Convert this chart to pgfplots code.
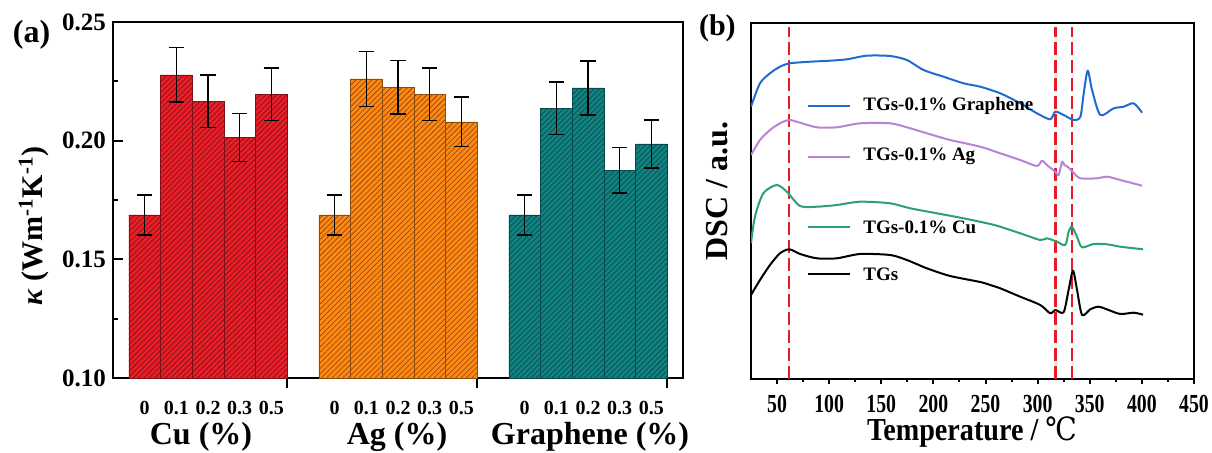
\documentclass[border=0pt]{standalone}
\usepackage{pgfplots}
\pgfplotsset{compat=1.18}
\usepackage{graphicx}
\usepackage{fontspec}
\setmainfont{Liberation Serif}
\newfontfamily\symfont{DejaVu Serif}
\usetikzlibrary{patterns.meta}

\definecolor{cured}{RGB}{232,30,40}
\definecolor{agorange}{RGB}{255,136,20}
\definecolor{grteal}{RGB}{16,130,130}
\definecolor{dscblue}{RGB}{30,108,205}
\definecolor{dscpurple}{RGB}{185,130,215}
\definecolor{dscgreen}{RGB}{45,160,115}
\definecolor{dashred}{RGB}{225,30,40}

\pgfplotsset{
  hatchbar/.style={ybar, bar width=15.83pt, fill=#1, draw=#1!55!black, line width=0.3pt,
    postaction={pattern={Lines[angle=45,distance=1.9pt,line width=0.28pt]}, pattern color=#1!50!black},
    error bars/.cd, y dir=both, y explicit,
    error bar style={black, line width=0.8pt},
    error mark options={rotate=90, black, line width=0.8pt, mark size=3.8pt}},
  dsc/.style={#1, line width=1pt, line join=round, smooth, tension=0.45},
  vline/.style={dashred, line width=1.3pt, dash pattern=on 6.5pt off 2.5pt},
}

\begin{document}
\begin{tikzpicture}
\useasboundingbox (0,0) rectangle (606pt,226pt);

% (a) thermal conductivity
\begin{axis}[
  at={(56.5pt,37pt)}, anchor=south west, scale only axis,
  width=285pt, height=178pt,
  xmin=0, xmax=18, ymin=0.10, ymax=0.25,
  axis line style={line width=1.1pt},
  tick style={black, line width=1pt},
  major tick length=5pt, minor tick length=2.5pt,
  ytick={0.10,0.15,0.20,0.25}, minor ytick={0.125,0.175,0.225},
  ytick pos=left, ytick align=inside,
  yticklabel style={font=\fontsize{12.5}{14}\selectfont\bfseries,
    /pgf/number format/.cd, fixed, fixed zerofill, precision=2, assume math mode=true},
  xtick={5.5,11.5,17.5}, xticklabels={}, xtick pos=bottom, xtick align=outside,
  extra x ticks={1,2,3,4,5,7,8,9,10,11,13,14,15,16,17},
  extra x tick labels={0,0.1,0.2,0.3,0.5,0,0.1,0.2,0.3,0.5,0,0.1,0.2,0.3,0.5},
  extra x tick style={tick style={draw=none},
    xticklabel style={font=\fontsize{10}{12}\selectfont\bfseries, anchor=base, yshift=-13pt}},
]
\addplot[hatchbar=cured] coordinates {
  (1,0.1687) +- (0,0.0084)
  (2,0.2277) +- (0,0.0115)
  (3,0.2166) +- (0,0.0110)
  (4,0.2013) +- (0,0.0101)
  (5,0.2195) +- (0,0.0110)
};
\addplot[hatchbar=agorange] coordinates {
  (7,0.1687) +- (0,0.0084)
  (8,0.2260) +- (0,0.0116)
  (9,0.2225) +- (0,0.0112)
  (10,0.2195) +- (0,0.0110)
  (11,0.2079) +- (0,0.0104)
};
\addplot[hatchbar=grteal] coordinates {
  (13,0.1687) +- (0,0.0084)
  (14,0.2136) +- (0,0.0110)
  (15,0.2222) +- (0,0.0113)
  (16,0.1875) +- (0,0.0096)
  (17,0.1986) +- (0,0.0100)
};
\end{axis}

\node[anchor=base] at (100.5pt,4pt) {\fontsize{16}{18}\selectfont\bfseries Cu (\%)};
\node[anchor=base] at (198.5pt,4pt) {\fontsize{16}{18}\selectfont\bfseries Ag (\%)};
\node[anchor=base] at (295pt,4pt) {\fontsize{16}{18}\selectfont\bfseries Graphene (\%)};
\node[rotate=90, anchor=center] at (17pt,113pt)
  {\fontsize{15}{17}\selectfont\bfseries\textit{κ} (Wm\textsuperscript{-1}K\textsuperscript{-1})};
\node[anchor=base] at (15.8pt,205pt) {\fontsize{16}{18}\selectfont\bfseries (a)};

% (b) DSC curves
\begin{axis}[
  at={(375.5pt,36.5pt)}, anchor=south west, scale only axis,
  width=221.5pt, height=178pt,
  xmin=25, xmax=450, ymin=0, ymax=356,
  axis line style={line width=1.1pt},
  tick style={black, line width=1pt},
  ytick=\empty,
  xtick={50,100,...,450}, minor x tick num=1,
  xtick pos=bottom, tick align=outside,
  major tick length=2.5pt, minor tick length=1.5pt,
  xticklabel={\scalebox{0.76}[1]{\pgfmathprintnumber{\tick}}},
  xticklabel style={font=\fontsize{13}{15}\selectfont\bfseries, anchor=base, yshift=-14pt,
    /pgf/number format/assume math mode=true},
]
\addplot[vline] coordinates {(61.5,0) (61.5,352)};
\addplot[vline] coordinates {(317.4,0) (317.4,352)};
\addplot[vline] coordinates {(332.8,0) (332.8,352)};

\addplot[dsc=dscblue] coordinates {
  (25,272.3) (33.6,295.7) (43.2,305.7) (52.8,312.3) (62.4,315.7) (81.6,317.3)
  (100.9,318.3) (116.9,319.7) (136.1,323.3) (158.5,323) (174.5,319) (190.5,309)
  (209.7,302.3) (228.9,295.7) (244.9,292.3) (264.1,285.7) (283.3,275.7) (299.3,265.7)
  (312.1,259.7) (316.9,267.3) (324.9,264) (334.6,259) (341.0,262.3) (344.2,285.7)
  (348.0,308.3) (352.2,289) (360.1,264) (372.9,270.7) (382.5,272.3) (392.1,275.7)
  (400.2,266.3)
};
\addplot[dsc=dscpurple] coordinates {
  (25,224) (33.6,239) (43.2,249) (52.8,255.7) (61.8,259) (72.1,256.3) (88.1,251.7)
  (107.3,251.7) (129.7,255.7) (158.5,255.7) (174.5,251.7) (193.7,245.7) (216.1,239)
  (244.9,232.3) (264.1,225.7) (283.3,219) (299.3,213) (304.1,218.3) (308.9,214)
  (316.9,207.3) (320.1,204) (323.4,217.3) (325.6,214) (328.7,212.3) (334.5,206.3)
  (340.9,200.7) (357.0,200.7) (366.6,202.3) (379.3,199) (400.2,193.3)
};
\addplot[dsc=dscgreen] coordinates {
  (25,135.7) (28.8,162.3) (36.8,185.7) (49.7,194) (59.3,187.3) (72.1,173) (88.1,172.3)
  (107.3,174) (129.7,177.3) (158.5,175.7) (177.7,170.7) (203.3,165.7) (228.9,160.7)
  (254.5,155) (264.1,152.3) (283.3,145.7) (302.5,139) (308.9,140.7) (318.5,137.3)
  (326.5,134) (329.7,147.3) (332.9,152.3) (337.7,142.3) (342.5,131.7) (353.7,135)
  (366.5,134.7) (379.3,132.3) (401.1,129.7)
};
\addplot[dsc=black] coordinates {
  (25,84) (33.6,99) (43.2,114) (52.8,125.7) (61.8,129.7) (72.1,125) (88.1,120.7)
  (107.3,120.7) (129.7,125) (158.5,124) (174.5,119) (193.7,110.7) (216.1,103)
  (244.9,97) (254.5,94) (264.1,90.7) (283.3,82.3) (302.5,74) (312.1,65.7) (316.9,69)
  (324.9,66.7) (329.7,89) (333.9,108.3) (337.8,89) (342.6,64) (350.5,69.7)
  (358.5,72.3) (368.1,69) (379.3,65) (392.1,66.3) (401.1,64.3)
};

% legend
\draw[dscblue, line width=1pt] (axis cs:80,273.3) -- (axis cs:120,273.3);
\draw[dscpurple, line width=1pt] (axis cs:80,222.3) -- (axis cs:120,222.3);
\draw[dscgreen, line width=1pt] (axis cs:80,151.7) -- (axis cs:120,151.7);
\draw[black, line width=1pt] (axis cs:80,105) -- (axis cs:120,105);
\node[anchor=west, font=\fontsize{9.5}{11}\selectfont\bfseries] at (axis cs:126,273.3) {TGs-0.1\% Graphene};
\node[anchor=west, font=\fontsize{9.5}{11}\selectfont\bfseries] at (axis cs:126,222.3) {TGs-0.1\% Ag};
\node[anchor=west, font=\fontsize{9.5}{11}\selectfont\bfseries] at (axis cs:126,151.7) {TGs-0.1\% Cu};
\node[anchor=west, font=\fontsize{9.5}{11}\selectfont\bfseries] at (axis cs:126,105) {TGs};
\end{axis}

\node[anchor=base] at (486pt,6pt) {\fontsize{16}{18}\selectfont\bfseries\scalebox{0.88}[1]{Temperature / {\symfont\mdseries ℃}}};
\node[rotate=90, anchor=center] at (358.5pt,130.5pt) {\fontsize{16}{18}\selectfont\bfseries DSC / a.u.};
\node[anchor=base] at (358.7pt,208.5pt) {\fontsize{15}{17}\selectfont\bfseries (b)};
\end{tikzpicture}
\end{document}
